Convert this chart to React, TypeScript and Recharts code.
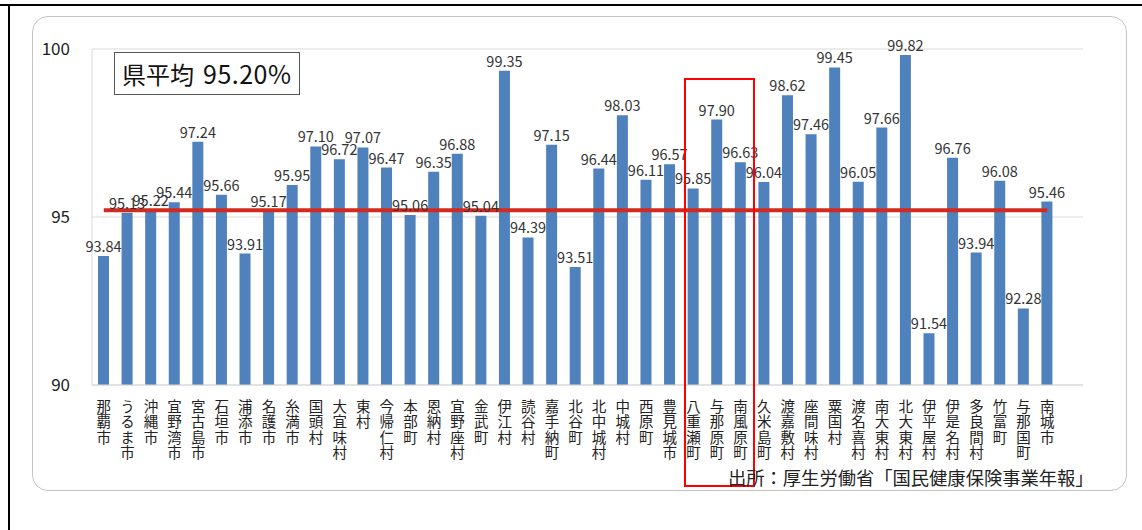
import React from "react";
import {
  ComposedChart,
  Bar,
  Line,
  XAxis,
  YAxis,
  CartesianGrid,
  LabelList,
} from "recharts";

const municipalities = [
  "那覇市", "うるま市", "沖縄市", "宜野湾市", "宮古島市", "石垣市", "浦添市", "名護市",
  "糸満市", "国頭村", "大宜味村", "東村", "今帰仁村", "本部町", "恩納村", "宜野座村",
  "金武町", "伊江村", "読谷村", "嘉手納町", "北谷町", "北中城村", "中城村", "西原町",
  "豊見城市", "八重瀬町", "与那原町", "南風原町", "久米島町", "渡嘉敷村", "座間味村", "粟国村",
  "渡名喜村", "南大東村", "北大東村", "伊平屋村", "伊是名村", "多良間村", "竹富町", "与那国町",
  "南城市",
];

const rates = [
  93.84, 95.13, 95.22, 95.44, 97.24, 95.66, 93.91, 95.17,
  95.95, 97.1, 96.72, 97.07, 96.47, 95.06, 96.35, 96.88,
  95.04, 99.35, 94.39, 97.15, 93.51, 96.44, 98.03, 96.11,
  96.57, 95.85, 97.9, 96.63, 96.04, 98.62, 97.46, 99.45,
  96.05, 97.66, 99.82, 91.54, 96.76, 93.94, 96.08, 92.28,
  95.46,
];

const prefectureAverage = 95.2;
const yTicks = [90, 95, 100];

const data = municipalities.map((name, i) => ({
  name,
  rate: rates[i],
  avg: prefectureAverage,
}));

const FONT = '"Noto Sans CJK JP", "Noto Sans", sans-serif';

const VerticalTick = (props: any) => {
  const { x, y, payload } = props;
  return (
    <text
      x={x}
      y={y + 6}
      textAnchor="start"
      fontSize={14.5}
      fontFamily={FONT}
      fill="#222"
      letterSpacing={1}
      style={{ writingMode: "vertical-rl" } as any}
    >
      {String(payload.value)}
    </text>
  );
};

export default function App() {
  return (
    <div
      style={{
        position: "absolute",
        left: 0,
        top: 0,
        width: 1142,
        height: 530,
        background: "#fff",
        overflow: "hidden",
        fontFamily: FONT,
      }}
    >
      {/* outer frame lines */}
      <div style={{ position: "absolute", left: 0, top: 4, width: 1142, height: 2, background: "#000" }} />
      <div style={{ position: "absolute", left: 8, top: 4, width: 2, height: 526, background: "#000" }} />
      {/* rounded panel */}
      <div
        style={{
          position: "absolute",
          left: 32,
          top: 16,
          width: 1093,
          height: 473,
          border: "1px solid #C4C4C4",
          borderRadius: 16,
          background: "#fff",
        }}
      />
      <div style={{ position: "absolute", left: 0, top: 0 }}>
        <ComposedChart
          width={1142}
          height={530}
          data={data}
          margin={{ top: 49, right: 59, left: 32, bottom: 45 }}
        >
          <CartesianGrid vertical={false} stroke="#D9D9D9" />
          <XAxis
            dataKey="name"
            interval={0}
            tickLine={false}
            axisLine={{ stroke: "#D9D9D9" }}
            tick={<VerticalTick />}
            height={100}
            padding={{ left: 0, right: 24 }}
          />
          <YAxis
            domain={[90, 100]}
            ticks={yTicks}
            width={60}
            tickLine={false}
            tickSize={0}
            tickMargin={22}
            axisLine={{ stroke: "#D9D9D9" }}
            tick={{ fontSize: 17, fill: "#222", fontFamily: FONT }}
          />
          <YAxis
            yAxisId="r"
            orientation="right"
            domain={[90, 100]}
            width={0}
            tick={false}
            tickLine={false}
            axisLine={{ stroke: "#D9D9D9" }}
          />
          <Bar dataKey="rate" fill="#4F81BD" barSize={11} isAnimationActive={false}>
            <LabelList
              dataKey="rate"
              position="top"
              offset={4}
              formatter={(v: any) => Number(v).toFixed(2)}
              style={{ fontSize: 14.5, fill: "#333", fontFamily: FONT }}
            />
          </Bar>
          <Line
            dataKey="avg"
            stroke="#D42A1E"
            strokeWidth={4}
            dot={false}
            activeDot={false}
            isAnimationActive={false}
          />
        </ComposedChart>
      </div>
      {/* legend box */}
      <div
        style={{
          position: "absolute",
          left: 114,
          top: 52,
          width: 186,
          height: 43,
          border: "1.5px solid #555",
          background: "#fff",
          boxSizing: "border-box",
          fontSize: 24,
          lineHeight: "40px",
          color: "#111",
          paddingLeft: 7,
          whiteSpace: "nowrap",
        }}
      >
        県平均<span style={{ marginLeft: 9, fontSize: 25, letterSpacing: 0.5 }}>95.20%</span>
      </div>
      {/* highlight box */}
      <div
        style={{
          position: "absolute",
          left: 684,
          top: 78,
          width: 71,
          height: 409,
          border: "2px solid #FF0000",
          boxSizing: "border-box",
        }}
      />
      {/* source */}
      <div
        style={{
          position: "absolute",
          left: 728,
          top: 464,
          fontSize: 18.3,
          lineHeight: "26px",
          color: "#222",
          whiteSpace: "nowrap",
        }}
      >
        出所：厚生労働省「国民健康保険事業年報」
      </div>
    </div>
  );
}
